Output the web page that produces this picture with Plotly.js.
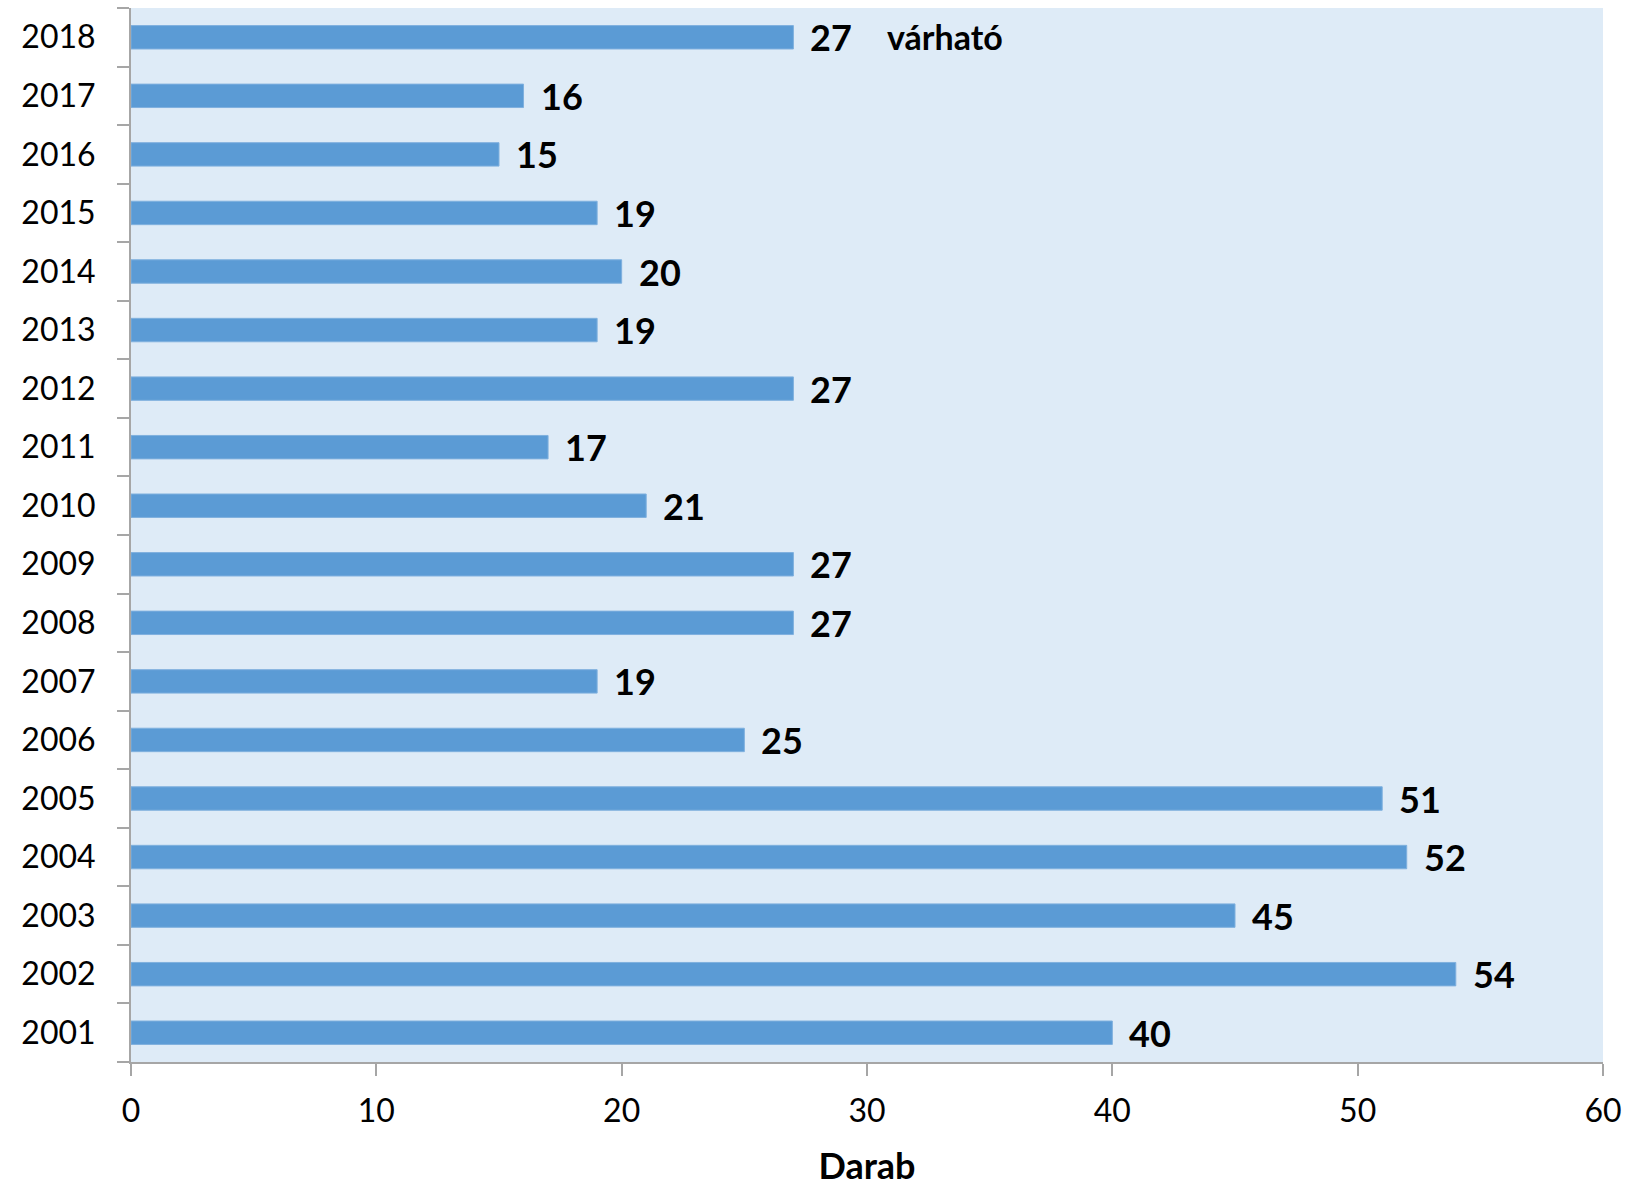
<!DOCTYPE html>
<html>
<head>
<meta charset="utf-8">
<script src="https://cdn.plot.ly/plotly-3.0.1.min.js"></script>
<style>html,body{margin:0;padding:0;background:#fff;}#chart{width:1637px;height:1187px;}</style>
</head>
<body>
<div id="chart"></div>
<script>
const years = ["2001","2002","2003","2004","2005","2006","2007","2008","2009","2010","2011","2012","2013","2014","2015","2016","2017","2018"];
const counts = [40,54,45,52,51,25,19,27,27,21,17,27,19,20,19,15,16,27];
const noteText = "várható";
const noteYear = "2018";
const xTicks = [0,10,20,30,40,50,60];
const xTitle = "Darab";

const fontFam = "Lato, 'Open Sans', sans-serif";

const trace = {
  type: "bar",
  orientation: "h",
  x: counts,
  y: years,
  marker: {color: "#5B9BD5", line: {color: "#7FB0DE", width: 1}},
  hoverinfo: "x+y"
};

// category axis: annotations positioned by category index
const annotations = counts.map((v, i) => ({
  x: v, y: i, xref: "x", yref: "y",
  text: String(v), showarrow: false,
  xanchor: "left", yanchor: "middle", xshift: 15, yshift: 0,
  font: {family: fontFam, size: 36, color: "#000", weight: 700}
}));
const noteIdx = years.indexOf(noteYear);
annotations.push({
  x: counts[noteIdx], y: noteIdx, xref: "x", yref: "y",
  text: noteText, showarrow: false,
  xanchor: "left", yanchor: "middle", xshift: 92, yshift: 1,
  font: {family: fontFam, size: 34, color: "#000", weight: 700}
});

const layout = {
  width: 1637, height: 1187,
  margin: {l: 131, r: 34, t: 8, b: 125, pad: 0},
  paper_bgcolor: "#ffffff",
  plot_bgcolor: "#DEEBF7",
  bargap: 0.6,
  showlegend: false,
  font: {family: fontFam, size: 32, color: "#000"},
  xaxis: {
    range: [0, 60],
    tickvals: xTicks,
    ticktext: xTicks.map(String),
    showgrid: false, zeroline: false,
    showline: true, linecolor: "#A6A6A6", linewidth: 2,
    ticks: "outside", ticklen: 12, tickwidth: 2, tickcolor: "#A6A6A6",
    ticklabelstandoff: 8,
    tickfont: {family: fontFam, size: 32, color: "#000"},
    title: {text: xTitle, font: {family: fontFam, size: 36, color: "#000", weight: 700}, standoff: 26},
    fixedrange: true
  },
  yaxis: {
    type: "category",
    categoryorder: "array", categoryarray: years,
    range: [-0.5, years.length - 0.5],
    autorange: false,
    tickson: "boundaries",
    showgrid: false, zeroline: false,
    showline: true, linecolor: "#A6A6A6", linewidth: 2,
    ticks: "outside", ticklen: 12, tickwidth: 2, tickcolor: "#A6A6A6",
    ticklabelstandoff: 27,
    tickfont: {family: fontFam, size: 32, color: "#000"},
    fixedrange: true
  },
  annotations: annotations
};

Plotly.newPlot("chart", [trace], layout, {displayModeBar: false, staticPlot: true});
</script>
</body>
</html>
